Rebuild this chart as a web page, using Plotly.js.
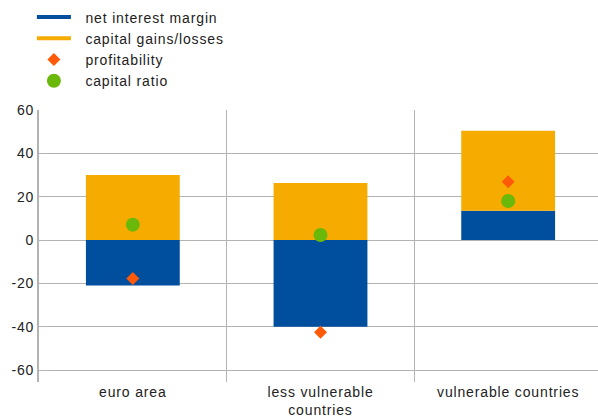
<!DOCTYPE html>
<html>
<head>
<meta charset="utf-8">
<script src="https://cdn.plot.ly/plotly-3.0.1.min.js"></script>
<style>
html,body{margin:0;padding:0;overflow:hidden;background:#fff;}
text{letter-spacing:0.85px;}
</style>
</head>
<body>
<div id="chart"></div>
<script>
const categories = ["euro area", "less vulnerable<br>countries", "vulnerable countries"];
const seriesNames = ["net interest margin", "capital gains/losses", "profitability", "capital ratio"];
const netInterestMargin = [-21, -40, 13.5];
const capitalGains = [30, 26.3, 36.9];
const profitability = [-17.7, -42.5, 26.9];
const capitalRatio = [7.1, 2.3, 18.0];
const yTicks = [-60, -40, -20, 0, 20, 40, 60];

const blue = "#004F9F", orange = "#F6AB00", red = "#FF5A0A", green = "#6AB80A";
const pad = "\u00A0\u00A0";

const traces = [
  {type: "bar", x: categories, y: netInterestMargin, name: seriesNames[0], marker: {color: blue}, width: 0.5, showlegend: false},
  {type: "bar", x: categories, y: capitalGains, name: seriesNames[1], marker: {color: orange}, width: 0.5, showlegend: false},
  {type: "scatter", mode: "lines", x: [null], y: [null], name: pad + seriesNames[0], line: {color: blue, width: 4}},
  {type: "scatter", mode: "lines", x: [null], y: [null], name: pad + seriesNames[1], line: {color: orange, width: 4}},
  {type: "scatter", mode: "markers", x: categories, y: profitability, name: pad + seriesNames[2],
   marker: {symbol: "diamond", color: red, size: 10}},
  {type: "scatter", mode: "markers", x: categories, y: capitalRatio, name: pad + seriesNames[3],
   marker: {symbol: "circle", color: green, size: 14}}
];

const layout = {
  width: 602, height: 419,
  margin: {l: 39, r: 0, t: 110, b: 37, autoexpand: false},
  paper_bgcolor: "#fff", plot_bgcolor: "#fff",
  font: {family: "Liberation Sans, Arial, sans-serif", size: 14, color: "#222"},
  barmode: "relative",
  showlegend: true,
  legend: {xref: "container", yref: "container", x: 0.053, y: 0.9964, xanchor: "left", yanchor: "top",
           itemwidth: 34,
           font: {size: 14, color: "#222"}, tracegroupgap: 0, traceorder: "normal", bgcolor: "rgba(0,0,0,0)"},
  xaxis: {type: "category", tickson: "boundaries", showgrid: true, gridcolor: "#B3B3B3", gridwidth: 1,
          ticks: "", showline: false, zeroline: false, range: [-0.5, 2.5], fixedrange: true,
          tickfont: {size: 14, color: "#222"}},
  yaxis: {range: [-65.5, 60], tickvals: yTicks, ticktext: yTicks.map(String), showgrid: true,
          gridcolor: "#B3B3B3", gridwidth: 1, zeroline: false, showline: true, linecolor: "#B3B3B3",
          linewidth: 2, ticks: "", ticklen: 0, tickfont: {size: 14, color: "#222"}, fixedrange: true}
};

Plotly.newPlot("chart", traces, layout, {displayModeBar: false, staticPlot: true});
</script>
</body>
</html>
